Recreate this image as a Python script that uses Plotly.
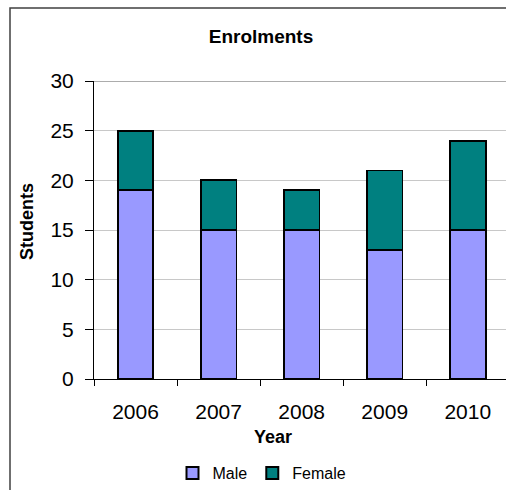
import plotly.graph_objects as go

years = ["2006", "2007", "2008", "2009", "2010"]
male = [19, 15, 15, 13, 15]
female = [6, 5, 4, 8, 9]

W, H = 506, 490
L, T, B = 94, 81, 111
plot_h = H - T - B
plot_w = W - L

fig = go.Figure()
fig.add_trace(go.Bar(name="Male", x=years, y=male, marker=dict(color="#9999FF", line=dict(color="black", width=1.8))))
fig.add_trace(go.Bar(name="Female", x=years, y=female, marker=dict(color="#008080", line=dict(color="black", width=1.8))))

font = "Arial, Liberation Sans, sans-serif"
fig.update_layout(
    width=W, height=H,
    margin=dict(l=L, r=0, t=T, b=B, pad=0),
    barmode="stack", bargap=0.57,
    paper_bgcolor="white", plot_bgcolor="white",
    font=dict(family=font, color="black"),
    title=dict(text="<b>Enrolments</b>", x=261 / W, xanchor="center", xref="container",
               y=1 - 36 / H, yanchor="middle", yref="container",
               font=dict(size=19, family=font, color="black")),
    showlegend=True,
    legend=dict(orientation="h", x=262 / W, xanchor="center", xref="container",
                y=0.0, yanchor="bottom", yref="container",
                font=dict(size=16, family=font), bgcolor="rgba(0,0,0,0)",
                itemsizing="constant", traceorder="normal", itemwidth=30),
    xaxis=dict(type="category", range=[-0.5, 4.46], showgrid=False, automargin=False,
               ticks="outside", tickson="boundaries", ticklen=6, tickcolor="black",
               showline=True, linecolor="black", linewidth=1,
               tickfont=dict(size=21, family=font), ticklabelstandoff=14),
    yaxis=dict(range=[0, 30], dtick=5, tick0=0, showgrid=True, gridcolor="#c8c8c8", gridwidth=1,
               automargin=False,
               ticks="outside", ticklen=8, tickcolor="black",
               showline=True, linecolor="black", linewidth=1,
               zeroline=True, zerolinecolor="black", zerolinewidth=1,
               tickfont=dict(size=21, family=font), ticklabelstandoff=7),
    annotations=[
        dict(text="<b>Year</b>", x=(273 - L) / plot_w, xref="paper", xanchor="center",
             y=(H - B - 437) / plot_h, yref="paper", yanchor="middle", showarrow=False,
             font=dict(size=18, family=font, color="black")),
        dict(text="<b>Students</b>", textangle=-90, x=(27 - L) / plot_w, xref="paper", xanchor="center",
             y=(H - B - 222) / plot_h, yref="paper", yanchor="middle", showarrow=False,
             font=dict(size=18, family=font, color="black")),
    ],
    shapes=[
        dict(type="line", xref="paper", yref="y", x0=0, x1=1.1, y0=30, y1=30,
             line=dict(color="#909090", width=1.5), layer="below"),
        dict(type="rect", xref="paper", yref="paper",
             x0=(10 - L) / plot_w, x1=1.2,
             y0=(H - B - 8) / plot_h, y1=-0.6,
             line=dict(color="#404040", width=1.5), fillcolor="rgba(0,0,0,0)"),
    ],
)

fig.write_html("out.html")
